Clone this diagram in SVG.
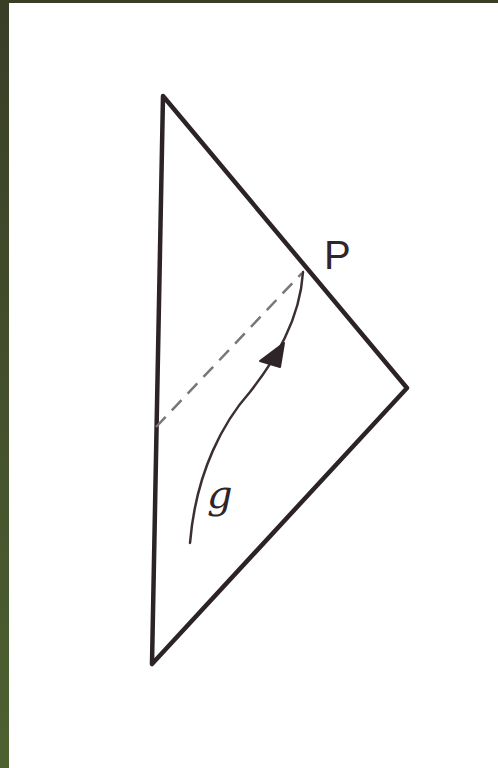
<svg xmlns="http://www.w3.org/2000/svg" width="498" height="768" viewBox="0 0 498 768">
<defs>
<linearGradient id="bord" x1="0" y1="0" x2="0" y2="1"><stop offset="0" stop-color="#393e27"/><stop offset="1" stop-color="#4e6131"/></linearGradient>
<style>
.edge{fill:none;stroke:#2b2326;stroke-width:4.5;stroke-linejoin:round;stroke-linecap:round}
.path{fill:none;stroke:#3a3034;stroke-width:2.5;stroke-linecap:round}
.dash{fill:none;stroke:#7a7678;stroke-width:2.5;stroke-dasharray:14 9}
.lbl{fill:#2e2629;font-family:"Liberation Sans",sans-serif}
.script{fill:#2e2629;font-family:"DejaVu Serif",serif;font-style:italic}
</style>
</defs>
<rect width="498" height="768" fill="#ffffff"/>
<rect x="0" y="0" width="9" height="768" fill="url(#bord)"/>
<rect x="0" y="0" width="498" height="3" fill="#393e27"/>
<g id="triangle"><path class="edge" d="M163,96 L407,388 L152,664 Z"/></g>
<g id="connectors">
<path class="dash" d="M156,427 L302,273"/>
<path class="path" d="M190,543 C196,470 225,420 250,392 C275,360 300,320 303,272"/>
<polygon points="284,343 260,361 280,367" fill="#2e2528" stroke="#2e2528" stroke-width="2" stroke-linejoin="round"/>
</g>
<g id="label-P"><text class="lbl" x="324" y="269" font-size="40">P</text></g>
<g id="label-g"><text class="script" x="207" y="508" font-size="40">g</text></g>
</svg>
